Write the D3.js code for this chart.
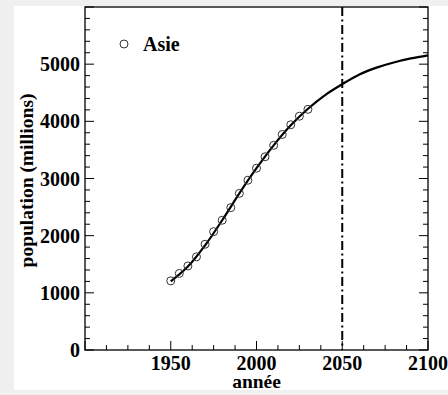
<!DOCTYPE html>
<html>
<head>
<meta charset="utf-8">
<script src="https://cdn.jsdelivr.net/npm/d3@7"></script>
<style>
  body { margin: 0; background: #f0f0f0; }
  svg { display: block; }
</style>
</head>
<body>
<div id="chart"></div>
<script>
// observed points (Asie)
const obsYears = [1950, 1955, 1960, 1965, 1970, 1975, 1980, 1985, 1990, 1995, 2000, 2005, 2010, 2015, 2020, 2025, 2030];
const obsPop = [1210, 1340, 1470, 1630, 1850, 2070, 2270, 2490, 2740, 2970, 3180, 3380, 3580, 3770, 3940, 4090, 4210];

// fitted / projected curve
const fitYears = [1950, 1960, 1970, 1980, 1990, 2000, 2010, 2020, 2030, 2040, 2050, 2060, 2070, 2080, 2090, 2100];
const fitPop = [1200, 1460, 1830, 2270, 2740, 3180, 3580, 3930, 4220, 4460, 4650, 4820, 4940, 5030, 5100, 5155];

const xTickLabels = [1950, 2000, 2050, 2100];
const yTickLabels = [0, 1000, 2000, 3000, 4000, 5000];
const markerYear = 2050;
const seriesName = "Asie";

const W = 448, H = 395;
const margin = { top: 7, right: 20, bottom: 45, left: 85 };
const width = 428 - margin.left;
const height = 350 - margin.top;

const svg = d3.select("#chart").append("svg")
  .attr("width", W)
  .attr("height", H)
  .attr("font-family", "Liberation Serif")
  .attr("font-weight", "bold");

// white page area
svg.append("rect")
  .attr("x", 14).attr("y", 6)
  .attr("width", W - 14).attr("height", 384)
  .attr("fill", "#fff");

const g = svg.append("g")
  .attr("transform", `translate(${margin.left},${margin.top})`);

const x = d3.scaleLinear().domain([1900, 2100]).range([0, width]);
const y = d3.scaleLinear().domain([0, 6000]).range([height, 0]);

// ticks (inward)
const xMinor = d3.range(1900, 2100.1, 12.5);
const yMinor = d3.range(0, 6000.1, 200);

g.selectAll(".xtick")
  .data(xMinor)
  .join("line")
  .attr("x1", d => x(d)).attr("x2", d => x(d))
  .attr("y1", height)
  .attr("y2", d => height - (d % 50 === 0 ? 9 : 5))
  .attr("stroke", "#000").attr("stroke-width", 1);

[0, width].forEach(side => {
  const dir = side === 0 ? 1 : -1;
  g.selectAll(null)
    .data(yMinor)
    .join("line")
    .attr("x1", side)
    .attr("x2", d => side + dir * (d % 1000 === 0 ? 9 : 5))
    .attr("y1", d => y(d)).attr("y2", d => y(d))
    .attr("stroke", "#000").attr("stroke-width", 1);
});

// tick labels
g.selectAll(".xlab")
  .data(xTickLabels)
  .join("text")
  .attr("x", d => x(d))
  .attr("y", height + 20)
  .attr("text-anchor", "middle")
  .attr("font-size", 20)
  .text(d => d);

g.selectAll(".ylab")
  .data(yTickLabels)
  .join("text")
  .attr("x", -5)
  .attr("y", d => y(d))
  .attr("dy", "0.35em")
  .attr("text-anchor", "end")
  .attr("font-size", 20)
  .text(d => d);

// axis titles
g.append("text")
  .attr("x", width / 2)
  .attr("y", height + 38)
  .attr("text-anchor", "middle")
  .attr("font-size", 19.5)
  .text("année");

g.append("text")
  .attr("transform", `translate(${33 - margin.left},${height / 2 + 2}) rotate(-90)`)
  .attr("text-anchor", "middle")
  .attr("font-size", 19.5)
  .text("population (millions)");

// projection marker
g.append("line")
  .attr("x1", x(markerYear)).attr("x2", x(markerYear))
  .attr("y1", 0).attr("y2", height)
  .attr("stroke", "#000")
  .attr("stroke-width", 2)
  .attr("stroke-dasharray", "9,3.5,2,3.5");

// fitted curve
const line = d3.line()
  .x((d, i) => x(fitYears[i]))
  .y(d => y(d))
  .curve(d3.curveCatmullRom);

g.append("path")
  .datum(fitPop)
  .attr("d", line)
  .attr("fill", "none")
  .attr("stroke", "#000")
  .attr("stroke-width", 2.2);

// observed points
g.selectAll(".pt")
  .data(obsPop)
  .join("circle")
  .attr("cx", (d, i) => x(obsYears[i]))
  .attr("cy", d => y(d))
  .attr("r", 4)
  .attr("fill", "none")
  .attr("stroke", "#333")
  .attr("stroke-width", 1);

// legend
g.append("circle")
  .attr("cx", 124 - margin.left)
  .attr("cy", 44 - margin.top)
  .attr("r", 4)
  .attr("fill", "none")
  .attr("stroke", "#333")
  .attr("stroke-width", 1);

g.append("text")
  .attr("x", 143 - margin.left)
  .attr("y", 51 - margin.top)
  .attr("font-size", 20)
  .text(seriesName);

// frame
g.append("rect")
  .attr("width", width).attr("height", height)
  .attr("fill", "none")
  .attr("stroke", "#000")
  .attr("stroke-width", 1.3);
</script>
</body>
</html>
